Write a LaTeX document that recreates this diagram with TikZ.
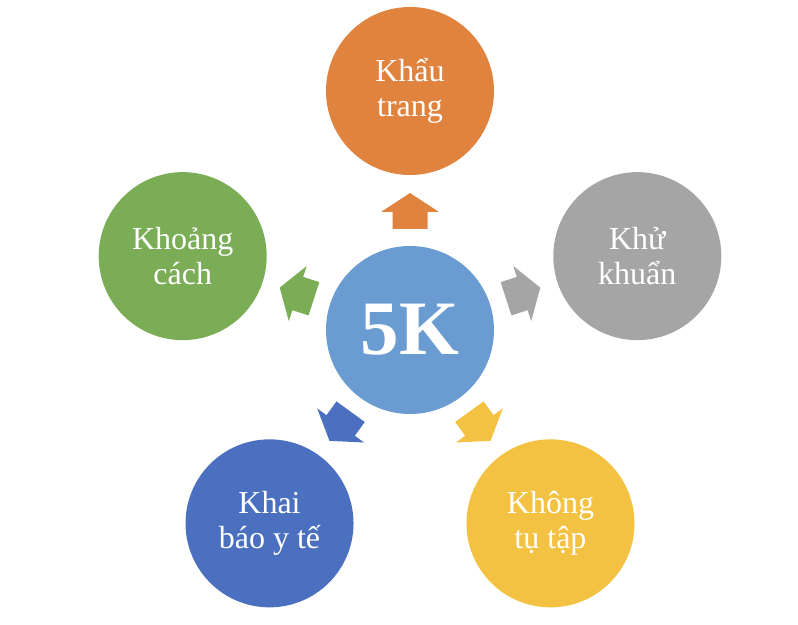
\documentclass[tikz,border=0pt]{standalone}
\usepackage{fontspec}
\setmainfont{Liberation Serif}
\usetikzlibrary{calc}
\definecolor{ccenter}{HTML}{6A9BD1}
\definecolor{corange}{HTML}{E0833F}
\definecolor{cgray}{HTML}{A5A5A5}
\definecolor{cyellow}{HTML}{F4C242}
\definecolor{cblue}{HTML}{4A70BF}
\definecolor{cgreen}{HTML}{7BAD57}
\begin{document}
\begin{tikzpicture}[x=1pt,y=1pt]
\useasboundingbox (0,0) rectangle (798,624);
\tikzset{
  ring/.style={circle, minimum size=168pt, inner sep=0pt, text=white,
    font=\fontsize{32}{35}\selectfont, align=center},
  outarrow/.pic={\fill (101,-17.5) -- (118,-17.5) -- (118,-29) -- (137,0)
    -- (118,29) -- (118,17.5) -- (101,17.5) -- cycle;}
}
\coordinate (c) at (410,294);
\node[ring, fill=ccenter, font=\fontsize{77}{80}\selectfont\bfseries] (k5) at (c) {5K};
\node[ring, fill=corange] (khau) at ($(c)+(90:239)$) {Khẩu\\trang};
\node[ring, fill=cgray] (khu) at ($(c)+(18:239)$) {Khử\\khuẩn};
\node[ring, fill=cyellow] (khong) at ($(c)+(-54:239)$) {Không\\tụ tập};
\node[ring, fill=cblue] (khai) at ($(c)+(-126:239)$) {Khai\\báo y tế};
\node[ring, fill=cgreen] (khoang) at ($(c)+(162:239)$) {Khoảng\\cách};
\pic[rotate=90, fill=corange] at (k5.center) {outarrow};
\pic[rotate=18, fill=cgray] at (k5.center) {outarrow};
\pic[rotate=-54, fill=cyellow] at (k5.center) {outarrow};
\pic[rotate=-126, fill=cblue] at (k5.center) {outarrow};
\pic[rotate=162, fill=cgreen] at (k5.center) {outarrow};
\end{tikzpicture}
\end{document}
